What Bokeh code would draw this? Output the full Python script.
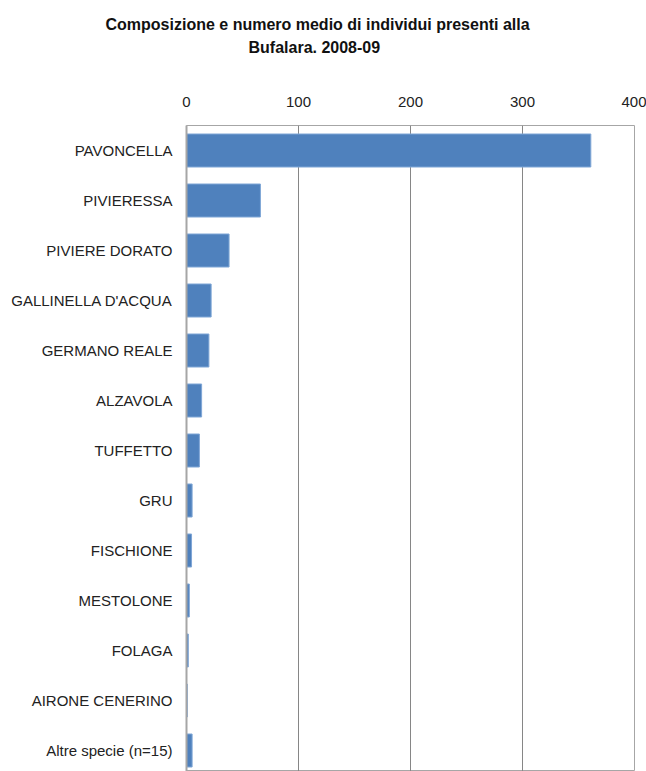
from bokeh.plotting import figure
from bokeh.models import Range1d, FixedTicker, Title
from bokeh.embed import file_html
from bokeh.resources import INLINE

species = ["PAVONCELLA", "PIVIERESSA", "PIVIERE DORATO", "GALLINELLA D'ACQUA",
           "GERMANO REALE", "ALZAVOLA", "TUFFETTO", "GRU", "FISCHIONE",
           "MESTOLONE", "FOLAGA", "AIRONE CENERINO", "Altre specie (n=15)"]
mean_count = [361, 66, 38, 22, 20, 13.5, 11.5, 5, 4.5, 2.5, 1.6, 0.7, 5]
x_ticks = [0, 100, 200, 300, 400]
title_lines = ["Composizione e numero medio di individui presenti alla", "Bufalara. 2008-09"]

n = len(species)
ypos = [n - 1 - i for i in range(n)]

W, H = 646, 771
p = figure(width=W, height=H, output_backend="svg", toolbar_location=None, title=None,
           x_range=Range1d(0, 400), y_range=Range1d(-0.42, n - 0.5),
           x_axis_location="above", min_border_left=186, min_border_right=12,
           min_border_top=125, min_border_bottom=0)

p.hbar(y=ypos, right=mean_count, left=0, height=0.66,
       fill_color="#4F81BD", line_color="#7FA6D6", line_width=1)

p.xaxis.ticker = FixedTicker(ticks=x_ticks)
p.xaxis.axis_line_color = None
p.xaxis.major_tick_line_color = None
p.xaxis.minor_tick_line_color = None
p.xaxis.major_tick_out = 0
p.xaxis.major_label_standoff = 19
p.xaxis.major_label_text_font = "Liberation Sans"
p.xaxis.major_label_text_font_size = "15px"
p.xaxis.major_label_text_color = "#222222"
p.xaxis.axis_label = " "
p.xaxis.axis_label_text_font_size = "2px"
p.xaxis.axis_label_standoff = 29

p.yaxis.ticker = FixedTicker(ticks=ypos)
p.yaxis.major_label_overrides = {y: s for y, s in zip(ypos, species)}
p.yaxis.axis_line_color = "#A6A6A6"
p.yaxis.axis_line_width = 2
p.yaxis.major_tick_line_color = None
p.yaxis.minor_tick_line_color = None
p.yaxis.major_tick_out = 0
p.yaxis.major_label_standoff = 14
p.yaxis.major_label_text_font = "Liberation Sans"
p.yaxis.major_label_text_font_size = "15px"
p.yaxis.major_label_text_color = "#222222"

p.xgrid.ticker = FixedTicker(ticks=x_ticks)
p.xgrid.grid_line_color = "#868686"
p.ygrid.grid_line_color = None
p.outline_line_color = "#A6A6A6"
p.background_fill_color = "white"
p.border_fill_color = "white"

# two centred title lines (offset relative to the plot frame's left edge)
for txt, off, so in [(title_lines[1], 62, 5), (title_lines[0], -81, 3)]:
    p.add_layout(Title(text=txt, align="left", offset=off, vertical_align="middle",
                       standoff=so, text_font="Liberation Sans", text_font_style="bold",
                       text_font_size="16px", text_color="#111111"), "above")

open("out.html", "w").write(file_html(p, INLINE))
